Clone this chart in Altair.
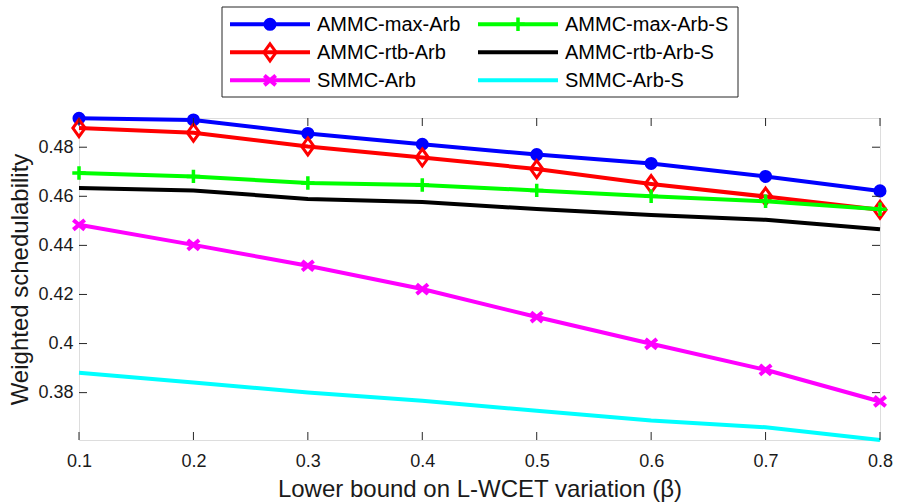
import altair as alt
import pandas as pd

# ---------------- data ----------------
beta = [0.1, 0.2, 0.3, 0.4, 0.5, 0.6, 0.7, 0.8]
names = ["AMMC-max-Arb", "AMMC-rtb-Arb", "SMMC-Arb",
         "AMMC-max-Arb-S", "AMMC-rtb-Arb-S", "SMMC-Arb-S"]
ammc_max_arb = [0.4918, 0.4911, 0.4856, 0.4812, 0.4770, 0.4734, 0.4681, 0.4622]
ammc_rtb_arb = [0.4878, 0.4859, 0.4803, 0.4758, 0.4711, 0.4650, 0.4599, 0.4545]
smmc_arb = [0.4484, 0.4402, 0.4317, 0.4222, 0.4108, 0.3999, 0.3893, 0.3764]
ammc_max_arb_s = [0.4695, 0.4681, 0.4654, 0.4646, 0.4624, 0.4600, 0.4580, 0.4547]
ammc_rtb_arb_s = [0.4634, 0.4624, 0.4589, 0.4577, 0.4548, 0.4524, 0.4504, 0.4466]
smmc_arb_s = [0.3881, 0.3841, 0.3801, 0.3767, 0.3726, 0.3686, 0.3659, 0.3607]
y_ticks = [0.38, 0.40, 0.42, 0.44, 0.46, 0.48]

series = [ammc_max_arb, ammc_rtb_arb, smmc_arb,
          ammc_max_arb_s, ammc_rtb_arb_s, smmc_arb_s]

# ---------------- styles ----------------
colors = ["#0000FF", "#FF0000", "#FF00FF", "#00FF00", "#000000", "#00FFFF"]
markers = {
    "AMMC-max-Arb": dict(shape="circle", filled=True, size=170, strokeWidth=0),
    "AMMC-rtb-Arb": dict(shape="M0,-1L0.72,0L0,1L-0.72,0Z", filled=False, size=290, strokeWidth=3),
    "SMMC-Arb": dict(shape="M-1,-0.85L1,0.85M-1,0.85L1,-0.85", filled=False, size=130, strokeWidth=4),
    "AMMC-max-Arb-S": dict(shape="M-1,0H1M0,-1V1", filled=False, size=180, strokeWidth=3.5),
}

W, H = 801, 322
FONT = "Liberation Sans"
TXT = "#1a1a1a"

df = pd.DataFrame(
    [{"series": n, "beta": b, "value": v}
     for n, vals in zip(names, series) for b, v in zip(beta, vals)]
)

xscale = alt.Scale(domain=[0.1, 0.8], nice=False, zero=False)
yscale = alt.Scale(domain=[0.3607, 0.4919], nice=False, zero=False)

x_axis = alt.Axis(values=beta, format=".1f", grid=False, ticks=False, tickSize=0,
                  domain=False, labelFontSize=18, labelPadding=12, labelFont=FONT,
                  labelColor=TXT, labelFlush=False, labelOverlap=False, labelBound=False,
                  title="Lower bound on L-WCET variation (β)",
                  titleFont=FONT, titleFontSize=24, titleFontWeight="normal",
                  titleColor=TXT, titleBaseline="alphabetic", titleY=56)
y_axis = alt.Axis(values=y_ticks, format=".2~f", grid=False, ticks=False, tickSize=0,
                  domain=False, labelFontSize=18, labelPadding=6, labelFont=FONT,
                  labelColor=TXT, labelFlush=False, labelOverlap=False, labelBound=False,
                  title="Weighted schedulability",
                  titleFont=FONT, titleFontSize=24, titleFontWeight="normal",
                  titleColor=TXT, titleBaseline="alphabetic", titleX=-52)


def X(field):
    return alt.X(field, type="quantitative", scale=xscale, axis=x_axis)


def Y(field):
    return alt.Y(field, type="quantitative", scale=yscale, axis=y_axis)


base = alt.Chart(df)
layers = []

for n, c in zip(names, colors):
    sub = base.transform_filter(alt.datum.series == n)
    layers.append(
        sub.mark_line(strokeWidth=4, clip=False).encode(
            x=X("beta"), y=Y("value"), color=alt.value(c))
    )
    if n in markers:
        m = markers[n]
        layers.append(
            sub.mark_point(shape=m["shape"], filled=m["filled"], size=m["size"],
                           strokeWidth=m["strokeWidth"], opacity=1, clip=False).encode(
                x=X("beta"), y=Y("value"), color=alt.value(c))
        )

# inward tick marks (bottom/top on x ticks, left/right on y ticks)
xt = alt.Chart(pd.DataFrame({"beta": beta}))
yt = alt.Chart(pd.DataFrame({"value": y_ticks}))
TL = 8
for y1, y2 in [(H, H - TL), (0, TL)]:
    layers.append(xt.mark_rule(color="#262626", strokeWidth=1).encode(
        x=X("beta"), y=alt.value(y1), y2=alt.value(y2)))
for x1, x2 in [(0, TL), (W, W - TL)]:
    layers.append(yt.mark_rule(color="#262626", strokeWidth=1).encode(
        y=Y("value"), x=alt.value(x1), x2=alt.value(x2)))

# ---------------- legend (drawn above the plot area) ----------------
leg = pd.DataFrame({"series": names, "idx": list(range(len(names)))})
legc = (alt.Chart(leg)
        .transform_calculate(col="floor(datum.idx / 3)", row="datum.idx % 3")
        .transform_calculate(
            lx1="151 + datum.col * 248",
            lx2="231 + datum.col * 248",
            lxm="191 + datum.col * 248",
            tx="238 + datum.col * 248",
            ly="-93.7 + datum.row * 28",
        ))

layers.append(
    alt.Chart(alt.Data(values=[{"k": 1}])).mark_rect(
        fill="white", stroke="#262626", strokeWidth=1).encode(
        x=alt.value(143), x2=alt.value(659), y=alt.value(-111), y2=alt.value(-21))
)
for n, c in zip(names, colors):
    sub = legc.transform_filter(alt.datum.series == n)
    layers.append(sub.mark_rule(strokeWidth=4).encode(
        x=alt.X("lx1:Q", scale=None), x2="lx2:Q",
        y=alt.Y("ly:Q", scale=None), color=alt.value(c)))
    if n in markers:
        m = markers[n]
        layers.append(sub.mark_point(shape=m["shape"], filled=m["filled"], size=m["size"],
                                     strokeWidth=m["strokeWidth"], opacity=1).encode(
            x=alt.X("lxm:Q", scale=None), y=alt.Y("ly:Q", scale=None), color=alt.value(c)))
layers.append(legc.mark_text(align="left", baseline="middle", fontSize=20, font=FONT,
                             color="#000000", dy=1).encode(
    x=alt.X("tx:Q", scale=None), y=alt.Y("ly:Q", scale=None), text="series:N"))

chart = alt.layer(*layers).properties(
    width=W, height=H,
    autosize=alt.AutoSizeParams(type="none"),
    padding={"left": 79, "top": 118, "right": 20, "bottom": 64},
).configure_view(stroke="#262626", strokeWidth=1).configure(background="white")

chart.save("out.html", embed_options={"renderer": "svg", "actions": False})
